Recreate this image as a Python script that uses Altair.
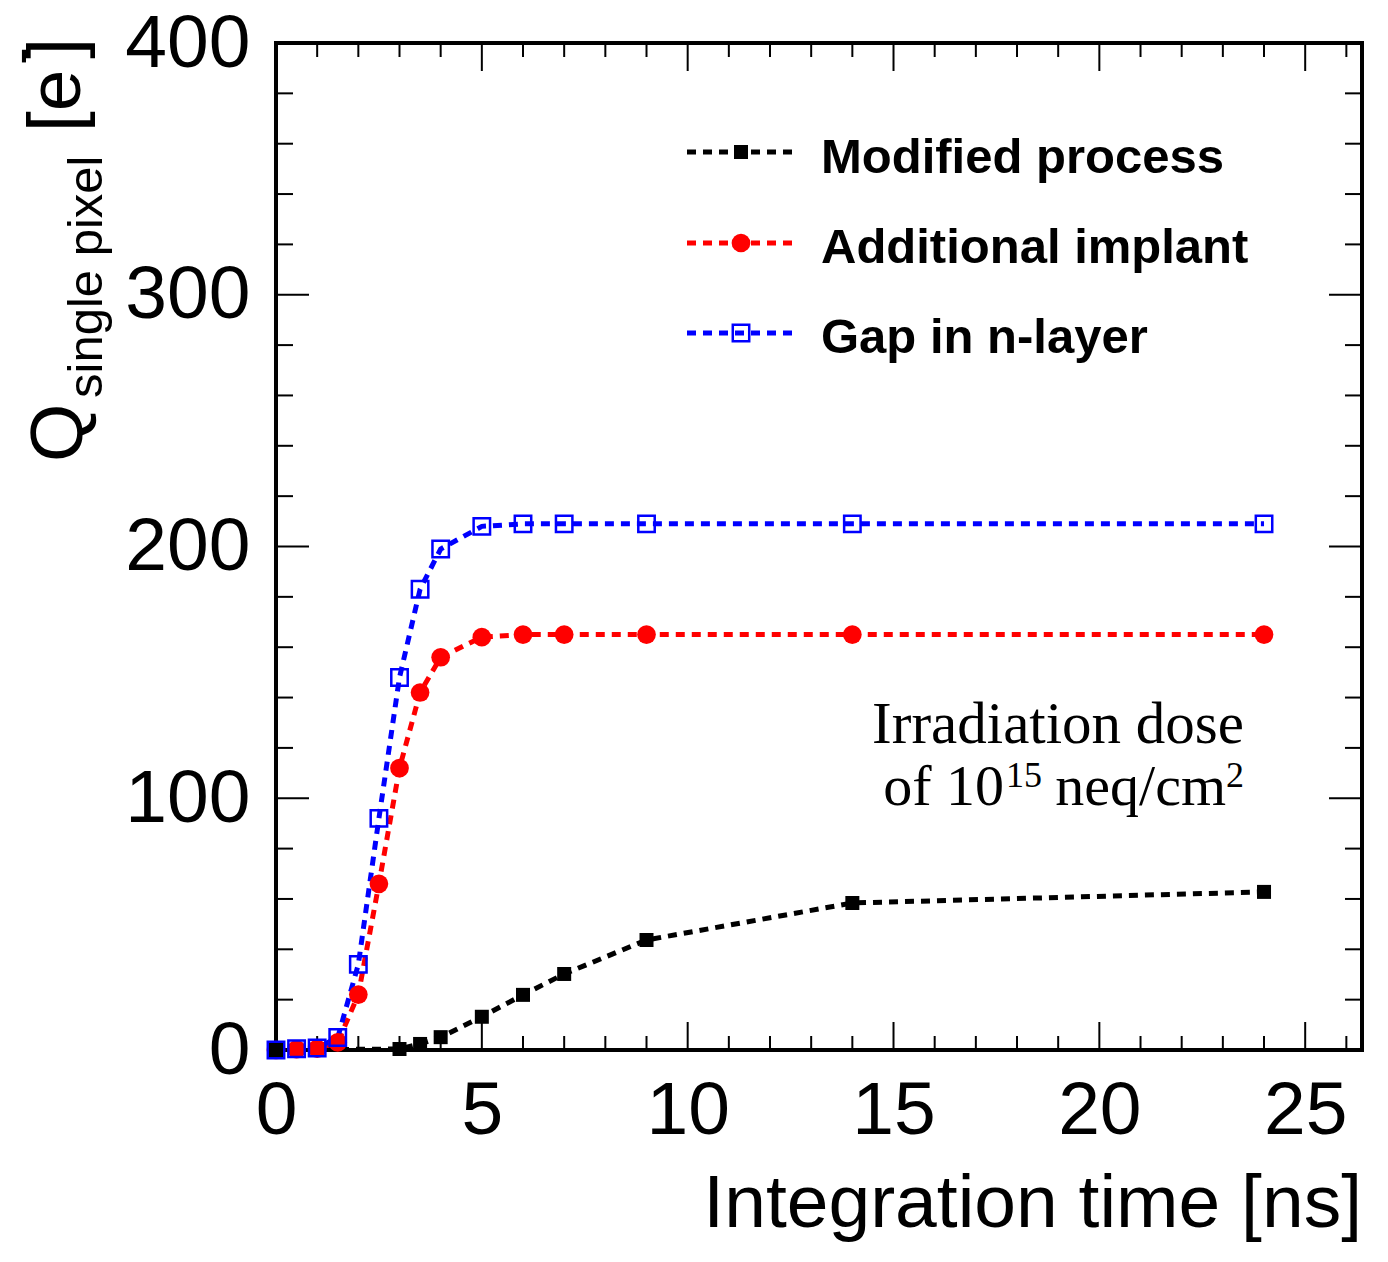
import altair as alt
import pandas as pd

# ---------------- data ----------------
series_names = ["Modified process", "Additional implant", "Gap in n-layer"]
series_colors = ["#000000", "#ff0000", "#0000ff"]

t_modified = [0, 3, 3.5, 4, 5, 6, 7, 9, 14, 24]
q_modified = [0, 0.4, 2.4, 5.1, 13.2, 21.9, 30.2, 43.7, 58.4, 62.8]

t_implant = [0, 0.5, 1, 1.5, 2, 2.5, 3, 3.5, 4, 5, 6, 7, 9, 14, 24]
q_implant = [0, 0.3, 0.5, 3, 22, 66, 112, 142, 156, 164, 165, 165, 165, 165, 165]

t_gap = [0, 0.5, 1, 1.5, 2, 2.5, 3, 3.5, 4, 5, 6, 7, 9, 14, 24]
q_gap = [0, 0.5, 0.8, 5, 34, 92, 148, 183, 199, 208, 209, 209, 209, 209, 209]

x_label_values = [0, 5, 10, 15, 20, 25]
y_label_values = [0, 100, 200, 300, 400]
x_minor_values = [v for v in range(0, 27) if v % 5 != 0]
y_minor_values = [v for v in range(0, 401, 20) if v % 100 != 0]

# ---------------- layout ----------------
W, H = 1086, 1007
LEFT, TOP = 276, 43
FONT = "Liberation Sans"

xs = alt.Scale(domain=[0, 26.38], nice=False, zero=False)
ys = alt.Scale(domain=[0, 400], nice=False, zero=False)

xaxis = alt.Axis(values=x_label_values, ticks=False, domain=False, grid=False,
                 labelFontSize=75, labelFont=FONT, labelColor="black",
                 labelPadding=24, labelFlush=False, title=None, format="d")
yaxis = alt.Axis(values=y_label_values, ticks=False, domain=False, grid=False,
                 labelFontSize=75, labelFont=FONT, labelColor="black",
                 labelPadding=26, labelFlush=False, title=None, format="d")

def X(field):
    return alt.X(field, type="quantitative", scale=xs, axis=xaxis)

def Y(field):
    return alt.Y(field, type="quantitative", scale=ys, axis=yaxis)

frames = {
    "Modified process": pd.DataFrame({"t": t_modified, "q": q_modified}),
    "Additional implant": pd.DataFrame({"t": t_implant, "q": q_implant}),
    "Gap in n-layer": pd.DataFrame({"t": t_gap, "q": q_gap}),
}

DASH = [9, 7]
LW = 5

marker_style = {
    "Modified process": dict(shape="square", filled=True, size=196),
    "Additional implant": dict(shape="circle", filled=True, size=350),
    "Gap in n-layer": dict(shape="square", filled=False, size=270, strokeWidth=2.5),
}

layers = []

# lines
for name, col in zip(series_names, series_colors):
    layers.append(
        alt.Chart(frames[name]).mark_line(color=col, strokeWidth=LW, strokeDash=DASH,
                                          strokeCap="butt")
        .encode(x=X("t"), y=Y("q"))
    )

# bottom frame over the lines
one = pd.DataFrame({"a": [0]})
layers.append(
    alt.Chart(one).mark_rule(color="black", strokeWidth=4)
    .encode(x=alt.value(0), x2=alt.value(W), y=alt.value(H))
)

# ticks (inside, on all four sides)
xmaj = pd.DataFrame({"t": x_label_values})
xmin = pd.DataFrame({"t": x_minor_values})
ymaj = pd.DataFrame({"q": y_label_values})
ymin = pd.DataFrame({"q": y_minor_values})
tick = dict(color="black", strokeWidth=2)
layers += [
    alt.Chart(xmaj).mark_rule(**tick).encode(x=X("t"), y=alt.value(H), y2=alt.value(H - 28)),
    alt.Chart(xmaj).mark_rule(**tick).encode(x=X("t"), y=alt.value(0), y2=alt.value(28)),
    alt.Chart(xmin).mark_rule(**tick).encode(x=X("t"), y=alt.value(H), y2=alt.value(H - 14)),
    alt.Chart(xmin).mark_rule(**tick).encode(x=X("t"), y=alt.value(0), y2=alt.value(14)),
    alt.Chart(ymaj).mark_rule(**tick).encode(y=Y("q"), x=alt.value(0), x2=alt.value(33)),
    alt.Chart(ymaj).mark_rule(**tick).encode(y=Y("q"), x=alt.value(W), x2=alt.value(W - 33)),
    alt.Chart(ymin).mark_rule(**tick).encode(y=Y("q"), x=alt.value(0), x2=alt.value(17)),
    alt.Chart(ymin).mark_rule(**tick).encode(y=Y("q"), x=alt.value(W), x2=alt.value(W - 17)),
]

# markers (red, blue, black on top)
for name in ["Additional implant", "Gap in n-layer", "Modified process"]:
    col = series_colors[series_names.index(name)]
    layers.append(
        alt.Chart(frames[name]).mark_point(color=col, opacity=1, **marker_style[name])
        .encode(x=X("t"), y=Y("q"))
    )

# legend
legend_rows_y = [152, 243, 333]
legend_text_base = [173, 263, 353]
for name, col, ry, tb in zip(series_names, series_colors, legend_rows_y, legend_text_base):
    layers.append(
        alt.Chart(one).mark_rule(color=col, strokeWidth=LW, strokeDash=DASH, strokeCap="butt")
        .encode(x=alt.value(687 - LEFT), x2=alt.value(795 - LEFT), y=alt.value(ry - TOP))
    )
    layers.append(
        alt.Chart(one).mark_point(color=col, opacity=1, **marker_style[name])
        .encode(x=alt.value(741 - LEFT), y=alt.value(ry - TOP))
    )
    layers.append(
        alt.Chart(one).mark_text(text=name, font=FONT, fontSize=49, fontWeight="bold",
                                 align="left", baseline="alphabetic", color="black")
        .encode(x=alt.value(821 - LEFT), y=alt.value(tb - TOP))
    )

# annotation
SERIF = "Liberation Serif"
ANN_RIGHT = 1244
layers.append(
    alt.Chart(one).mark_text(text="Irradiation dose", font=SERIF, fontSize=59,
                             align="right", baseline="alphabetic", color="black")
    .encode(x=alt.value(ANN_RIGHT - LEFT), y=alt.value(743 - TOP))
)
ann2 = [("2", 36, ANN_RIGHT, 787), ("neq/cm", 58, ANN_RIGHT - 18, 805),
        ("15", 36, ANN_RIGHT - 202, 787), ("of 10", 58, ANN_RIGHT - 240, 805)]
for txt, fs, xr, yb in ann2:
    layers.append(
        alt.Chart(one).mark_text(text=txt, font=SERIF, fontSize=fs,
                                 align="right", baseline="alphabetic", color="black")
        .encode(x=alt.value(xr - LEFT), y=alt.value(yb - TOP))
    )

# x axis title
layers.append(
    alt.Chart(one).mark_text(text="Integration time [ns]", font=FONT, fontSize=75,
                             align="right", baseline="alphabetic", color="black")
    .encode(x=alt.value(1362 - LEFT), y=alt.value(1227 - TOP))
)

# y axis title (rotated pieces)
ytitle = [
    ("Q", 75, "left", 82, 462),
    ("single pixel", 49, "left", 102, 398),
    ("[e", 75, "left", 80, 132),
    ("]", 75, "right", 80, 38),
    ("-", 52, "center", 38, 56),
]
for txt, fs, al, xb, yy in ytitle:
    layers.append(
        alt.Chart(one).mark_text(text=txt, font=FONT, fontSize=fs, angle=270,
                                 align=al, baseline="alphabetic", color="black")
        .encode(x=alt.value(xb - LEFT), y=alt.value(yy - TOP))
    )

chart = (
    alt.layer(*layers)
    .properties(width=W, height=H,
                padding={"left": LEFT, "top": TOP, "right": 1388 - LEFT - W, "bottom": 1262 - TOP - H},
                autosize=alt.AutoSizeParams(type="none"),
                background="white")
    .configure_view(stroke="black", strokeWidth=4)
)

chart.save("out.html", embed_options={"renderer": "svg", "actions": False})
